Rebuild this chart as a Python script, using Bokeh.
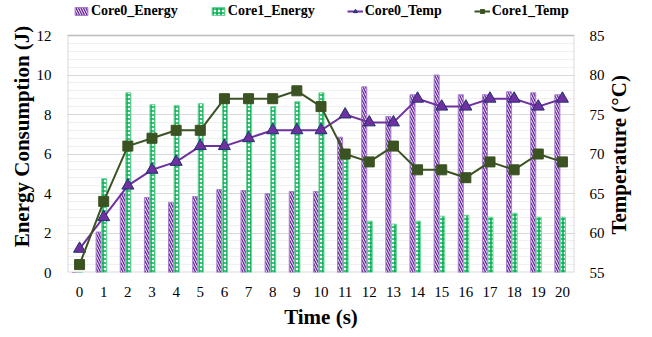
import math
from bokeh.plotting import figure
from bokeh.models import (FactorRange, Range1d, LinearAxis, FixedTicker, BoxAnnotation,
                          Legend, LegendItem, ColumnDataSource)
from bokeh.transform import dodge
from bokeh.embed import file_html
from bokeh.resources import INLINE

times = [str(i) for i in range(21)]
core0_energy = [0, 2.05, 4.0, 3.8, 3.55, 3.85, 4.2, 4.15, 4.0, 4.1, 4.1,
                6.85, 9.4, 7.9, 9.0, 10.0, 9.0, 9.0, 9.15, 9.1, 9.0]
core1_energy = [0, 4.75, 9.1, 8.5, 8.45, 8.55, 8.8, 8.55, 8.4, 8.65, 9.1,
                6.0, 2.6, 2.45, 2.6, 2.85, 2.9, 2.8, 3.0, 2.8, 2.8]
core0_temp = [58, 62, 66, 68, 69, 71, 71, 72, 73, 73, 73,
              75, 74, 74, 77, 76, 76, 77, 77, 76, 77]
core1_temp = [56, 64, 71, 72, 73, 73, 77, 77, 77, 78, 76,
              70, 69, 71, 68, 68, 67, 69, 68, 70, 69]
energy_ticks = [0, 2, 4, 6, 8, 10, 12]
temp_ticks = [55, 60, 65, 70, 75, 80, 85]
temp_title = "Temperature (°C)"

FONT = "Liberation Serif"
TITLE_SIZE = "21px"
FRAME_H = 272          # frame from canvas top to x-axis
PLOT_H = 237           # height of the 0..12 J area
E_MAX, T_MIN, T_MAX = 12, 55, 85
e_end = E_MAX * FRAME_H / PLOT_H
t_end = T_MIN + (T_MAX - T_MIN) * FRAME_H / PLOT_H
minor = [round(0.4 * i, 2) for i in range(31)]
RT_POS = 59.8          # anchor of the rotated right-axis title (start of text)

src = ColumnDataSource(dict(t=times, e0=core0_energy, e1=core1_energy,
                            t0=core0_temp, t1=core1_temp))

p = figure(width=652, height=337, x_range=FactorRange(*times),
           y_range=Range1d(0, e_end), output_backend="svg", toolbar_location=None,
           min_border_left=67, min_border_right=78, min_border_top=0,
           min_border_bottom=65)
p.x_range.range_padding = 0
p.extra_y_ranges = {"temp": Range1d(T_MIN, t_end)}

p.outline_line_color = None
p.background_fill_color = "white"
p.border_fill_color = "white"

# grid
p.xgrid.grid_line_color = None
p.ygrid.ticker = FixedTicker(ticks=energy_ticks, minor_ticks=minor)
p.ygrid.grid_line_color = "#D9D9D9"
p.ygrid.grid_line_width = 1
p.ygrid.minor_grid_line_color = "#F0F0F0"
p.ygrid.minor_grid_line_width = 1

# bars
b0 = p.vbar(x=dodge("t", -0.21, range=p.x_range), top="e0", width=0.21, source=src,
            fill_color="white", line_color="#A77FCF", line_width=1,
            hatch_pattern="left_diagonal_line", hatch_color="#7030A0",
            hatch_scale=5, hatch_weight=1.5)
b1 = p.vbar(x=dodge("t", 0.02, range=p.x_range), top="e1", width=0.21, source=src,
            fill_color="white", line_color="#6AD39A", line_width=1,
            hatch_pattern="cross", hatch_color="#00B050",
            hatch_scale=4, hatch_weight=1.6)

# plot-area border (0..12 J)
p.add_layout(BoxAnnotation(bottom=0, top=E_MAX, fill_alpha=0, fill_color=None,
                           line_color="#808080", line_width=2, level="underlay"))

# lines
l0 = p.line(x="t", y="t0", source=src, y_range_name="temp", line_color="#7030A0", line_width=2)
m0 = p.scatter(x="t", y="t0", source=src, y_range_name="temp", marker="triangle",
               size=12, fill_color="#7030A0", line_color="#1F2F6F", line_width=1)
l1 = p.line(x="t", y="t1", source=src, y_range_name="temp", line_color="#3B5323", line_width=2)
m1 = p.scatter(x="t", y="t1", source=src, y_range_name="temp", marker="square",
               size=10, fill_color="#3B5323", line_color="#3B5323", line_width=1)

# axes
for ax in (p.xaxis[0], p.yaxis[0]):
    ax.axis_line_color = None
    ax.major_tick_line_color = None
    ax.minor_tick_line_color = None
    ax.major_label_text_font = FONT
    ax.major_label_text_font_size = "15px"
    ax.major_label_text_color = "black"
    ax.axis_label_text_font = FONT
    ax.axis_label_text_font_style = "bold"
    ax.axis_label_text_font_size = TITLE_SIZE
    ax.axis_label_text_color = "black"

p.yaxis[0].ticker = FixedTicker(ticks=energy_ticks)
p.yaxis[0].axis_label = "Energy Consumption (J)"
p.yaxis[0].major_label_standoff = 10
p.yaxis[0].axis_label_standoff = 0

p.xaxis[0].axis_label = "Time (s)"
p.xaxis[0].major_label_standoff = 8
p.xaxis[0].axis_label_standoff = 5

ra = LinearAxis(y_range_name="temp", ticker=FixedTicker(ticks=temp_ticks))
ra.axis_line_color = None
ra.major_tick_line_color = None
ra.minor_tick_line_color = None
ra.major_label_text_font = FONT
ra.major_label_text_font_size = "15px"
ra.major_label_text_color = "black"
ra.major_label_standoff = 9
p.add_layout(ra, "right")

# right title as a rotated single tick label (reads bottom-to-top)
rt = LinearAxis(y_range_name="temp", ticker=FixedTicker(ticks=[RT_POS]))
rt.major_label_overrides = {RT_POS: temp_title}
rt.major_label_orientation = math.pi / 2
rt.axis_line_color = None
rt.major_tick_line_color = None
rt.minor_tick_line_color = None
rt.major_label_text_font = FONT
rt.major_label_text_font_style = "bold"
rt.major_label_text_font_size = TITLE_SIZE
rt.major_label_text_color = "black"
rt.major_label_standoff = 6
p.add_layout(rt, "right")

legend = Legend(items=[
    LegendItem(label="Core0_Energy", renderers=[b0]),
    LegendItem(label="Core1_Energy", renderers=[b1]),
    LegendItem(label="Core0_Temp", renderers=[l0, m0]),
    LegendItem(label="Core1_Temp", renderers=[l1, m1]),
], orientation="horizontal", location=(6, FRAME_H - 19))
legend.label_text_font = FONT
legend.label_text_font_style = "bold"
legend.label_text_font_size = "14px"
legend.label_text_color = "black"
legend.glyph_width = 16
legend.glyph_height = 10
legend.label_height = 14
legend.label_standoff = 2
legend.spacing = 32
legend.padding = 0
legend.margin = 0
legend.border_line_color = None
legend.background_fill_alpha = 0
p.add_layout(legend, "center")

open("out.html", "w").write(file_html(p, INLINE))
